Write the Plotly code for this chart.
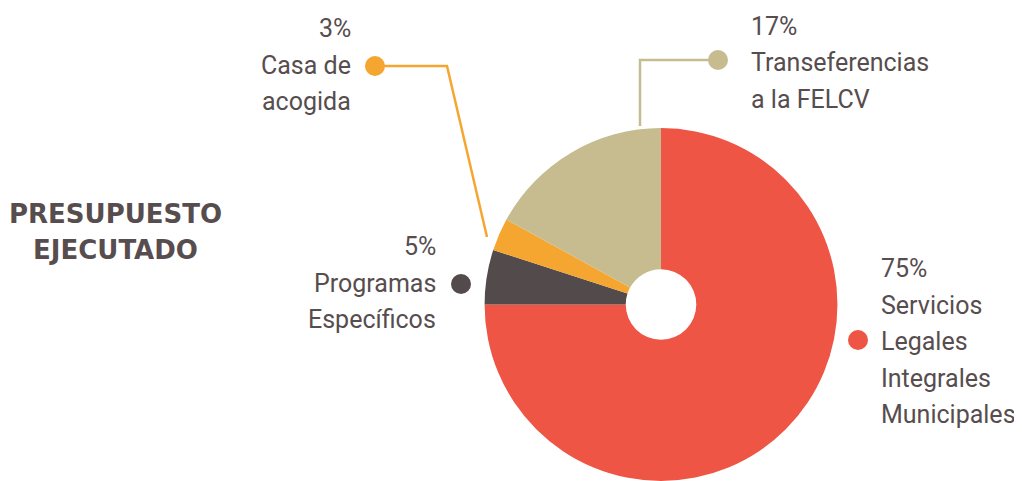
import plotly.graph_objects as go

categories = ["Servicios Legales Integrales Municipales", "Programas Específicos",
              "Casa de acogida", "Transferencias a la FELCV"]
values = [75, 5, 3, 17]
colors = ["#EE5544", "#534A4B", "#F5A630", "#C6BC8F"]
label_lines = [
    ["Servicios", "Legales", "Integrales", "Municipales"],
    ["Programas", "Específicos"],
    ["Casa de", "acogida"],
    ["Transeferencias", "a la FELCV"],
]

OFF = 8  # page body margin
W, H = 1014, 473
TXT = "#574D4E"
FONT = "Roboto, sans-serif"
FS = 25
LS = 36.5

def px(x):
    return (x - OFF) / W

def py(y):
    return 1 - (y - OFF) / H

fig = go.Figure()
fig.add_trace(go.Pie(
    labels=categories, values=values, marker=dict(colors=colors, line=dict(width=0)),
    sort=False, direction="clockwise", rotation=0, hole=0.2,
    textinfo="none", hoverinfo="label+percent", showlegend=False,
    domain=dict(x=[0.470, 0.818], y=[0, 0.7463]),
))

shapes = []
def dot(x, y, c, r=10):
    shapes.append(dict(type="circle", xref="paper", yref="paper",
                       x0=px(x - r), x1=px(x + r), y0=py(y + r), y1=py(y - r),
                       fillcolor=c, line=dict(width=0), layer="above"))

def path(pts, c):
    d = "M " + " L ".join(f"{px(a)},{py(b)}" for a, b in pts)
    shapes.append(dict(type="path", xref="paper", yref="paper", path=d,
                       line=dict(color=c, width=2.5), layer="above"))

path([(375, 66), (447, 66), (487, 237)], colors[2])
dot(375, 66, colors[2])
path([(718, 60), (640, 60), (640, 126)], colors[3])
dot(718, 60, colors[3])
dot(461, 284, colors[1])
dot(858, 340, colors[0])

annos = []
def block(lines, x, baseline0, anchor, size=FS, family=FONT, spacing=LS, bold=False):
    for i, t in enumerate(lines):
        b = baseline0 + i * spacing
        annos.append(dict(text=f"<b>{t}</b>" if bold else t, x=px(x), y=py(b - 0.34 * size),
                          xref="paper", yref="paper", xanchor=anchor, yanchor="middle",
                          align=anchor, showarrow=False,
                          font=dict(family=family, size=size, color=TXT)))

block([f"{values[2]}%"] + label_lines[2], 353, 37, "right")
block([f"{values[3]}%"] + label_lines[3], 749, 35, "left")
block([f"{values[1]}%"] + label_lines[1], 438, 255, "right")
block([f"{values[0]}%"] + label_lines[0], 879, 277, "left")
block(["PRESUPUESTO", "EJECUTADO"], 115, 223, "center", size=26,
      family="DejaVu Sans, sans-serif", spacing=36, bold=True)

fig.update_layout(width=W, height=H, margin=dict(l=0, r=0, t=0, b=0),
                  paper_bgcolor="white", plot_bgcolor="white",
                  shapes=shapes, annotations=annos)
fig.write_html("out.html")
